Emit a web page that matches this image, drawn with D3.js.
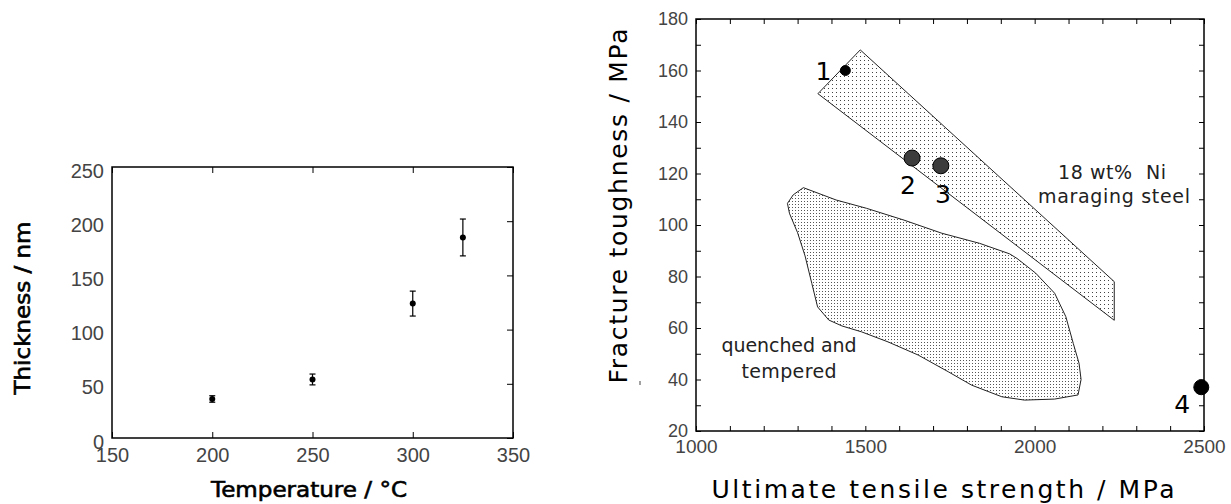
<!DOCTYPE html>
<html>
<head>
<meta charset="utf-8">
<script src="https://cdn.jsdelivr.net/npm/d3@7"></script>
<style>
  body { margin: 0; background: #fff; }
  svg { display: block; font-family: "DejaVu Sans", sans-serif; }
  .tick text { fill: #444; }
  .domain { display: none; }
</style>
</head>
<body>
<script>
// Left panel: oxide thickness vs temperature
const temps = [200, 250, 300, 325];
const thickness = [36, 54, 124, 185];
const thicknessErr = [3, 5, 11.5, 17];
const leftXTicks = [150, 200, 250, 300, 350];
const leftYTicks = [0, 50, 100, 150, 200, 250];

// Right panel: fracture toughness vs strength
const pointLabels = ["1", "2", "3", "4"];
const pointUTS = [1441, 1638, 1723, 2492];
const pointKIc = [160, 126, 123, 37];
const maragingBand = [[1360, 151], [1485, 168], [2235, 78], [2235, 63]];
const quenchedRegion = [
  [1317, 114.5], [1414, 109.7], [1503, 106.5], [1614, 101.9], [1726, 96.8],
  [1837, 92.9], [1926, 88.8], [1948, 87], [2003, 81.3], [2059, 73.5],
  [2092, 64.4], [2114, 54], [2131, 46.3], [2137, 40], [2128, 34],
  [2059, 32.4], [1970, 32], [1903, 33.3], [1814, 37.8], [1745, 43],
  [1656, 49.5], [1567, 54.6], [1489, 58.5], [1431, 60.8], [1392, 63.1],
  [1359, 68.2], [1342, 77.3], [1322, 88], [1300, 97], [1276, 104.5],
  [1270, 108.4], [1287, 111.7]
];
const rightXTicks = [1000, 1500, 2000, 2500];
const rightYTicks = [20, 40, 60, 80, 100, 120, 140, 160, 180];

const width = 1231, height = 504;

const svg = d3.select("body")
    .append("svg")
    .attr("width", width)
    .attr("height", height);

// dot patterns for the shaded regions
const defs = svg.append("defs");
function dotPattern(id, step, color) {
    const p = defs.append("pattern")
        .attr("id", id)
        .attr("patternUnits", "userSpaceOnUse")
        .attr("width", step)
        .attr("height", step);
    p.append("rect").attr("width", 1).attr("height", 1).attr("fill", color);
}
dotPattern("dotsBand", 4, "#444");
dotPattern("dotsBlob", 3, "#555");

// ---------- left panel ----------
const L = { left: 112, right: 513, top: 167, bottom: 438 };
const xL = d3.scaleLinear().domain([150, 350]).range([L.left, L.right]);
const yL = d3.scaleLinear().domain([0, 250]).range([L.bottom, L.top]);

const gL = svg.append("g");

gL.append("g")
    .attr("transform", `translate(0,${L.bottom})`)
    .call(d3.axisBottom(xL).tickValues(leftXTicks).tickSize(-6).tickPadding(10))
    .call(g => g.selectAll("text").style("font-size", "20px"));

gL.append("g")
    .attr("transform", `translate(0,${L.top})`)
    .call(d3.axisTop(xL).tickValues(leftXTicks).tickSize(-6).tickFormat(""));

gL.append("g")
    .attr("transform", `translate(${L.left},0)`)
    .call(d3.axisLeft(yL).tickValues(leftYTicks).tickSize(0).tickPadding(8))
    .call(g => g.selectAll("text").style("font-size", "20px").attr("dy", "0.5em"));

gL.append("g")
    .attr("transform", `translate(${L.right},0)`)
    .call(d3.axisRight(yL).tickValues(leftYTicks).tickSize(-6).tickFormat(""));

gL.selectAll(".tick line").attr("stroke", "#000");

gL.append("rect")
    .attr("x", L.left).attr("y", L.top)
    .attr("width", L.right - L.left).attr("height", L.bottom - L.top)
    .attr("fill", "none").attr("stroke", "#000").attr("stroke-width", 1.5);

const pts = temps.map((t, i) => ({ t, v: thickness[i], e: thicknessErr[i] }));

const eb = gL.append("g").selectAll("g").data(pts).enter().append("g");
eb.append("line")
    .attr("x1", d => xL(d.t)).attr("x2", d => xL(d.t))
    .attr("y1", d => yL(d.v - d.e)).attr("y2", d => yL(d.v + d.e))
    .attr("stroke", "#000").attr("stroke-width", 1.2);
eb.selectAll(".cap").data(d => [d.v - d.e, d.v + d.e].map(v => ({ t: d.t, v })))
    .enter().append("line")
    .attr("x1", d => xL(d.t) - 3).attr("x2", d => xL(d.t) + 3)
    .attr("y1", d => yL(d.v)).attr("y2", d => yL(d.v))
    .attr("stroke", "#000").attr("stroke-width", 1.2);
eb.append("circle")
    .attr("cx", d => xL(d.t)).attr("cy", d => yL(d.v))
    .attr("r", 3).attr("fill", "#000");

gL.append("text")
    .attr("x", 309).attr("y", 497)
    .attr("text-anchor", "middle")
    .attr("textLength", 196).attr("lengthAdjust", "spacingAndGlyphs")
    .attr("stroke", "#000").attr("stroke-width", 0.6)
    .style("font-size", "21px")
    .text("Temperature / °C");

gL.append("text")
    .attr("transform", "translate(30,308) rotate(-90)")
    .attr("text-anchor", "middle")
    .attr("textLength", 173).attr("lengthAdjust", "spacingAndGlyphs")
    .attr("stroke", "#000").attr("stroke-width", 0.6)
    .style("font-size", "21px")
    .text("Thickness / nm");

// ---------- right panel ----------
const R = { left: 696, right: 1204, top: 19, bottom: 431 };
const xR = d3.scaleLinear().domain([1000, 2500]).range([R.left, R.right]);
const yR = d3.scaleLinear().domain([20, 180]).range([R.bottom, R.top]);

const gR = svg.append("g");

const line = d3.line().x(d => xR(d[0])).y(d => yR(d[1])).curve(d3.curveLinearClosed);

gR.append("path")
    .datum(quenchedRegion)
    .attr("d", line)
    .attr("fill", "url(#dotsBlob)")
    .attr("stroke", "#222").attr("stroke-width", 1);

gR.append("path")
    .datum(maragingBand)
    .attr("d", line)
    .attr("fill", "url(#dotsBand)")
    .attr("stroke", "#222").attr("stroke-width", 1);

const minorX = d3.range(1000, 2501, 100);
const minorY = d3.range(20, 181, 10);

gR.append("g")
    .attr("transform", `translate(0,${R.bottom})`)
    .call(d3.axisBottom(xR).tickValues(minorX).tickSize(-5).tickFormat(""));
gR.append("g")
    .attr("transform", `translate(0,${R.bottom})`)
    .call(d3.axisBottom(xR).tickValues(rightXTicks).tickSize(0).tickPadding(9).tickFormat(d3.format("d")))
    .call(g => g.selectAll("text").style("font-size", "19px"));
gR.append("g")
    .attr("transform", `translate(0,${R.top})`)
    .call(d3.axisTop(xR).tickValues(minorX).tickSize(-5).tickFormat(""));
gR.append("g")
    .attr("transform", `translate(${R.left},0)`)
    .call(d3.axisLeft(yR).tickValues(minorY).tickSize(-5).tickFormat(""));
gR.append("g")
    .attr("transform", `translate(${R.left},0)`)
    .call(d3.axisLeft(yR).tickValues(rightYTicks).tickSize(0).tickPadding(8))
    .call(g => g.selectAll("text").style("font-size", "18px"));
gR.append("g")
    .attr("transform", `translate(${R.right},0)`)
    .call(d3.axisRight(yR).tickValues(minorY).tickSize(-5).tickFormat(""));

gR.selectAll(".tick line").attr("stroke", "#000");

gR.append("rect")
    .attr("x", R.left).attr("y", R.top)
    .attr("width", R.right - R.left).attr("height", R.bottom - R.top)
    .attr("fill", "none").attr("stroke", "#000").attr("stroke-width", 1.5);

// data points with their numbers
const rp = pointLabels.map((l, i) => ({ l, x: pointUTS[i], y: pointKIc[i] }));
const radius = [5, 8, 8, 7.5];
const fills = ["#000", "#3c3c3c", "#3c3c3c", "#000"];
const labelOff = [[-22, 9], [-4, 36], [2, 37], [-19, 26]];

gR.append("g").selectAll("circle").data(rp).enter().append("circle")
    .attr("cx", d => xR(d.x)).attr("cy", d => yR(d.y))
    .attr("r", (d, i) => radius[i])
    .attr("fill", (d, i) => fills[i])
    .attr("stroke", "#000").attr("stroke-width", 1);

gR.append("g").selectAll("text").data(rp).enter().append("text")
    .attr("x", (d, i) => xR(d.x) + labelOff[i][0])
    .attr("y", (d, i) => yR(d.y) + labelOff[i][1])
    .attr("text-anchor", "middle")
    .style("font-size", "25px")
    .text(d => d.l);

// region annotations
const ann = [
    { t: "18 wt%  Ni", x: 1112, y: 179, w: 108 },
    { t: "maraging steel", x: 1114, y: 203, w: 152 },
    { t: "quenched and", x: 789, y: 352, w: 135 },
    { t: "tempered", x: 789, y: 378, w: 95 }
];
gR.append("g").selectAll("text").data(ann).enter().append("text")
    .attr("x", d => d.x).attr("y", d => d.y)
    .attr("text-anchor", "middle")
    .attr("textLength", d => d.w).attr("lengthAdjust", "spacing")
    .attr("fill", "#222")
    .style("font-size", "19px")
    .style("white-space", "pre")
    .text(d => d.t);

// stray mark left of the 40 label
gR.append("line")
    .attr("x1", 640).attr("x2", 640)
    .attr("y1", 381).attr("y2", 385)
    .attr("stroke", "#444").attr("stroke-width", 1);

gR.append("text")
    .attr("x", 943).attr("y", 498)
    .attr("text-anchor", "middle")
    .attr("textLength", 463).attr("lengthAdjust", "spacing")
    .style("font-size", "25px")
    .text("Ultimate tensile strength / MPa");

gR.append("text")
    .attr("transform", "translate(627,206) rotate(-90)")
    .attr("text-anchor", "middle")
    .attr("textLength", 355).attr("lengthAdjust", "spacing")
    .style("font-size", "25px")
    .text("Fracture toughness / MPa");
</script>
</body>
</html>
